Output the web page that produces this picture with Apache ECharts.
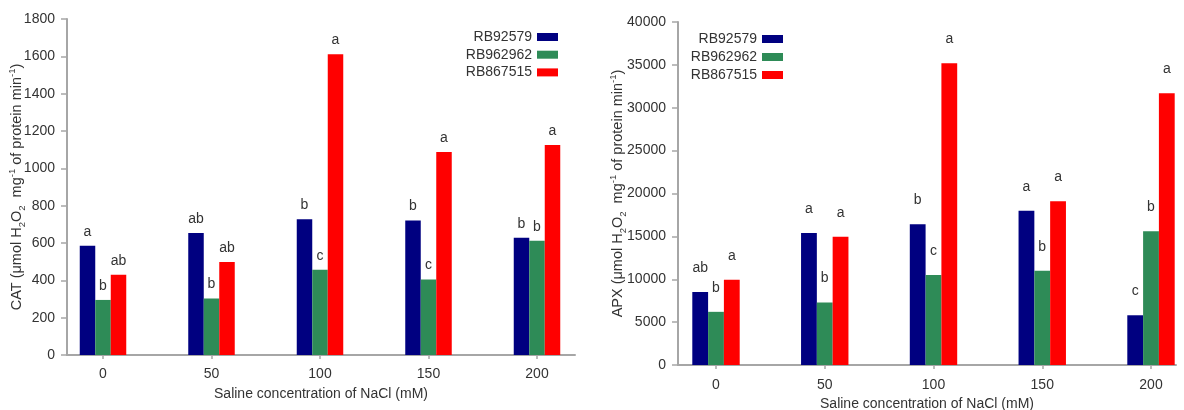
<!DOCTYPE html>
<html>
<head>
<meta charset="utf-8">
<script src="https://cdn.jsdelivr.net/npm/echarts@6/dist/echarts.min.js"></script>
<style>
html,body{margin:0;padding:0;background:#fff;}
#chart{width:1184px;height:410px;}
</style>
</head>
<body>
<div id="chart"></div>
<script>
// ---- data ----
const categories = ['0', '50', '100', '150', '200'];
const seriesNames = ['RB92579', 'RB962962', 'RB867515'];
const seriesColors = ['#000080', '#2e8b57', '#ff0000'];

// CAT (left panel)
const catRB92579  = [585, 653, 727, 720, 628];
const catRB962962 = [295, 303, 457, 405, 612];
const catRB867515 = [430, 498, 1611, 1087, 1125];
const catLetters92579  = ['a', 'ab', 'b', 'b', 'b'];
const catLetters962962 = ['b', 'b', 'c', 'c', 'b'];
const catLetters867515 = ['ab', 'ab', 'a', 'a', 'a'];

// APX (right panel)
const apxRB92579  = [8500, 15400, 16400, 18000, 5800];
const apxRB962962 = [6200, 7300, 10500, 11000, 15600];
const apxRB867515 = [9950, 14950, 35200, 19100, 31700];
const apxLetters92579  = ['ab', 'a', 'b', 'a', 'c'];
const apxLetters962962 = ['b', 'b', 'c', 'b', 'b'];
const apxLetters867515 = ['a', 'a', 'a', 'a', 'a'];

const catTicks = { min: 0, max: 1800, interval: 200 };
const apxTicks = { min: 0, max: 40000, interval: 5000 };

const xName = 'Saline concentration of NaCl (mM)';

// ---- styling ----
const FONT = 'Liberation Sans, Arial, sans-serif';
const TXT = '#333';
const AX = '#a6a6a6';

const richName = {
  n: { fontSize: 14.5, fontFamily: FONT, color: TXT, lineHeight: 20 },
  sub: { fontSize: 9.5, fontFamily: FONT, color: TXT, verticalAlign: 'bottom', lineHeight: 20 },
  sup: { fontSize: 9.5, fontFamily: FONT, color: TXT, verticalAlign: 'top', lineHeight: 20 }
};
function yName(prefix) {
  return '{n|' + prefix + ' (\u03bcmol H}{sub|2}{n|O}{sub|2}{n|  mg}{sup|-1}{n| of protein min}{sup|-1}{n|)}';
}

const chart = echarts.init(document.getElementById('chart'), null, { renderer: 'canvas' });

function barSeries(name, color, data, letters, xi, yi, width, dist) {
  return {
    type: 'bar', name: name, data: data,
    xAxisIndex: xi, yAxisIndex: yi,
    barWidth: width, barGap: '0%', clip: false,
    itemStyle: { color: color },
    label: {
      show: true, position: 'top', distance: dist,
      fontSize: 14, fontFamily: FONT, color: TXT,
      formatter: p => letters[p.dataIndex]
    },
    emphasis: { disabled: true },
    animation: false
  };
}

function legend(right, top, gap) {
  return {
    orient: 'vertical', right: right, top: top, align: 'right',
    itemWidth: 21, itemHeight: 8, itemGap: gap,
    icon: 'rect',
    textStyle: { fontSize: 14, fontFamily: FONT, color: TXT, lineHeight: 14 },
    data: seriesNames
  };
}

const plain = v => String(v);

const option = {
  backgroundColor: '#fff',
  animation: false,
  legend: [legend(621, 25, 3.7), legend(396, 27, 4)],
  grid: [
    { left: 103, right: 647, top: 19, bottom: 55, outerBoundsMode: 'none', containLabel: false },   // 0 left bars
    { left: 716, right: 33, top: 22, bottom: 45, outerBoundsMode: 'none', containLabel: false },    // 1 right bars
    { left: 67, right: 609, top: 19, bottom: 55, outerBoundsMode: 'none', containLabel: false },    // 2 left frame
    { left: 678, right: 8, top: 22, bottom: 45, outerBoundsMode: 'none', containLabel: false }      // 3 right frame
  ],
  xAxis: [
    { type: 'category', gridIndex: 0, data: categories, boundaryGap: false,
      axisLine: { show: false }, axisTick: { show: true, length: 4, lineStyle: { color: AX, width: 1.5 } },
      axisLabel: { fontSize: 14, fontFamily: FONT, color: TXT, margin: 12 } },
    { type: 'category', gridIndex: 1, data: categories, boundaryGap: false,
      axisLine: { show: false }, axisTick: { show: true, length: 4, lineStyle: { color: AX, width: 1.5 } },
      axisLabel: { fontSize: 14, fontFamily: FONT, color: TXT, margin: 13 } },
    { type: 'value', gridIndex: 2, min: 0, max: 1,
      axisLine: { show: true, lineStyle: { color: AX, width: 2 } },
      axisTick: { show: false }, axisLabel: { show: false }, splitLine: { show: false },
      name: xName, nameLocation: 'middle', nameGap: 32,
      nameTextStyle: { fontSize: 14, fontFamily: FONT, color: TXT } },
    { type: 'value', gridIndex: 3, min: 0, max: 1,
      axisLine: { show: true, lineStyle: { color: AX, width: 2 } },
      axisTick: { show: false }, axisLabel: { show: false }, splitLine: { show: false },
      name: xName, nameLocation: 'middle', nameGap: 32,
      nameTextStyle: { fontSize: 14, fontFamily: FONT, color: TXT } }
  ],
  yAxis: [
    { type: 'value', gridIndex: 0, min: catTicks.min, max: catTicks.max, show: false, splitLine: { show: false } },
    { type: 'value', gridIndex: 1, min: apxTicks.min, max: apxTicks.max, show: false, splitLine: { show: false } },
    { type: 'value', gridIndex: 2, min: catTicks.min, max: catTicks.max, interval: catTicks.interval,
      axisLine: { show: true, lineStyle: { color: AX, width: 2 } },
      axisTick: { show: true, length: 6, lineStyle: { color: AX, width: 1.5 } },
      axisLabel: { fontSize: 14, fontFamily: FONT, color: TXT, margin: 12, formatter: plain },
      splitLine: { show: false },
      name: yName('CAT'), nameLocation: 'middle', nameGap: 40, nameRotate: 90, nameMoveOverlap: false,
      nameTextStyle: { rich: richName } },
    { type: 'value', gridIndex: 3, min: apxTicks.min, max: apxTicks.max, interval: apxTicks.interval,
      axisLine: { show: true, lineStyle: { color: AX, width: 2 } },
      axisTick: { show: true, length: 6, lineStyle: { color: AX, width: 1.5 } },
      axisLabel: { fontSize: 14, fontFamily: FONT, color: TXT, margin: 12, formatter: plain },
      splitLine: { show: false },
      name: yName('APX'), nameLocation: 'middle', nameGap: 50, nameRotate: 90, nameMoveOverlap: false,
      nameTextStyle: { rich: richName } }
  ],
  series: [
    barSeries(seriesNames[0], seriesColors[0], catRB92579, catLetters92579, 0, 0, 15.5, 7),
    barSeries(seriesNames[1], seriesColors[1], catRB962962, catLetters962962, 0, 0, 15.5, 7),
    barSeries(seriesNames[2], seriesColors[2], catRB867515, catLetters867515, 0, 0, 15.5, 7),
    barSeries(seriesNames[0], seriesColors[0], apxRB92579, apxLetters92579, 1, 1, 15.8, 17),
    barSeries(seriesNames[1], seriesColors[1], apxRB962962, apxLetters962962, 1, 1, 15.8, 17),
    barSeries(seriesNames[2], seriesColors[2], apxRB867515, apxLetters867515, 1, 1, 15.8, 17)
  ]
};
chart.setOption(option);
</script>
</body>
</html>
